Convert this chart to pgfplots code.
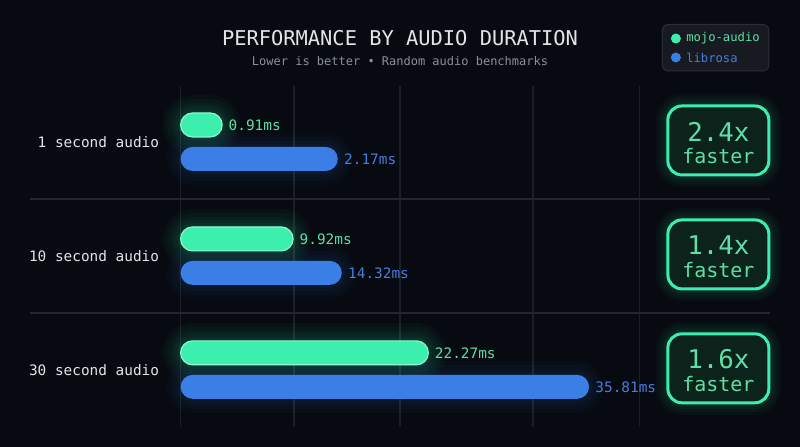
\documentclass[border=0pt]{standalone}
\usepackage{fontspec}
\setmainfont{DejaVu Sans Mono}
\usepackage{pgfplots}
\usepackage{pgfplotstable}
\pgfplotsset{compat=1.18}

\definecolor{bg}{HTML}{070A10}
\definecolor{gridc}{HTML}{1A1F27}
\definecolor{sepc}{HTML}{22262E}
\definecolor{mint}{HTML}{3DEFAE}
\definecolor{mintedge}{HTML}{8CF6CE}
\definecolor{minttxt}{HTML}{5EDFA6}
\definecolor{blu}{HTML}{3A7EE6}
\definecolor{blutxt}{HTML}{477DDD}
\definecolor{subc}{HTML}{8A9099}
\definecolor{catc}{HTML}{E2E4E8}
\definecolor{badgefill}{HTML}{0C231C}
\definecolor{legfill}{HTML}{171A21}
\definecolor{legdraw}{HTML}{2A2E37}

% bar length as drawn (scale of the 35.81 ms bar), y = bar centre in px from top
\pgfplotstableread{
y   len   lab
125 3.64  0.91ms
239 9.86  9.92ms
353 21.72 22.27ms
}\mojo
\pgfplotstableread{
y   len   lab
159 13.78 2.17ms
273 14.13 14.32ms
387 35.81 35.81ms
}\librosa

\pgfplotsset{
  glow/.style={xbar, bar width=12pt, bar shift=0pt, fill=none, rounded corners=6pt,
      draw opacity=0.035, line width=#1},
}

\begin{document}
\begin{tikzpicture}
\begin{scope}[x=0.5pt,y=-0.5pt]
\fill[bg] (0,0) rectangle (800,447);

% grid and separators
\foreach \gx in {180.5,294,400,533,640}
  \draw[gridc, line width=0.6pt] (\gx,86) -- (\gx,427);
\foreach \sy in {199,313}
  \draw[sepc, line width=0.8pt] (30,\sy) -- (770,\sy);

% title
\node[text=catc, font=\fontsize{10.2}{12}\selectfont] at (400,38) {PERFORMANCE BY AUDIO DURATION};
\node[text=subc, font=\fontsize{6}{7}\selectfont] at (400,61) {Lower is better • Random audio benchmarks};

% legend
\draw[legdraw, fill=legfill, line width=0.5pt, rounded corners=3pt] (662.5,24.5) rectangle (769,71);
\fill[mint] (676,38.5) circle (5);
\fill[blu] (676,57.5) circle (5);
\node[anchor=west, inner sep=0pt, text=minttxt, font=\fontsize{6.1}{7}\selectfont] at (686,38.5) {mojo-audio};
\node[anchor=west, inner sep=0pt, text=blutxt, font=\fontsize{6.1}{7}\selectfont] at (686,57.5) {librosa};
\end{scope}

\begin{axis}[
    at={(0,0)}, anchor=north west,
    scale only axis, width=400pt, height=223.5pt,
    xmin=-15.82, xmax=54.29, ymin=0, ymax=447, y dir=reverse,
    axis line style={draw=none},
    xtick=\empty,
    ytick={142.5,256.5,370.5},
    yticklabels={1 second audio,10 second audio,30 second audio},
    major tick length=0pt,
    yticklabel style={anchor=east, inner sep=0pt, xshift=79.65pt,
        text=catc, font=\fontsize{7.2}{8}\selectfont},
    clip=false,
]
% soft glow round the bars
\addplot[glow=18pt, draw=mint] table[x=len,y=y] {\mojo};
\addplot[glow=14pt, draw=mint] table[x=len,y=y] {\mojo};
\addplot[glow=10pt, draw=mint] table[x=len,y=y] {\mojo};
\addplot[glow=7pt, draw=mint] table[x=len,y=y] {\mojo};
\addplot[glow=4pt, draw=mint] table[x=len,y=y] {\mojo};
\addplot[glow=2pt, draw=mint] table[x=len,y=y] {\mojo};
\addplot[glow=14pt, draw=blu] table[x=len,y=y] {\librosa};
\addplot[glow=10pt, draw=blu] table[x=len,y=y] {\librosa};
\addplot[glow=6pt, draw=blu] table[x=len,y=y] {\librosa};
\addplot[glow=3pt, draw=blu] table[x=len,y=y] {\librosa};

% bars
\addplot[xbar, bar width=12pt, bar shift=0pt, fill=mint, draw=mintedge, line width=0.6pt, rounded corners=6pt,
    nodes near coords, point meta=explicit symbolic,
    nodes near coords style={anchor=west, inner sep=0pt, xshift=3pt, text=minttxt,
        font=\fontsize{7.2}{8}\selectfont}]
    table[x=len,y=y,meta=lab] {\mojo};
\addplot[xbar, bar width=12pt, bar shift=0pt, fill=blu, draw=none, rounded corners=6pt,
    nodes near coords, point meta=explicit symbolic,
    nodes near coords style={anchor=west, inner sep=0pt, xshift=3pt, text=blutxt,
        font=\fontsize{7.2}{8}\selectfont}]
    table[x=len,y=y,meta=lab] {\librosa};
\end{axis}

% speed-up badges
\begin{scope}[x=0.5pt,y=-0.5pt]
\foreach \cy/\txt in {140.5/2.4x,254.5/1.4x,368.5/1.6x}{
  \foreach \lw in {12pt,9pt,6pt,4pt}
    \draw[mint, draw opacity=0.035, line width=\lw, rounded corners=7pt] (668,\cy-34.5) rectangle (769,\cy+34.5);
  \draw[mint, fill=badgefill, line width=1.5pt, rounded corners=7pt] (668,\cy-34.5) rectangle (769,\cy+34.5);
  \node[text=minttxt, font=\fontsize{12.9}{14}\selectfont] at (718.5,\cy-9) {\txt};
  \node[text=minttxt, font=\fontsize{10}{12}\selectfont] at (718.5,\cy+16) {faster};
}
\useasboundingbox (0,0) rectangle (800,447);
\end{scope}
\end{tikzpicture}
\end{document}
